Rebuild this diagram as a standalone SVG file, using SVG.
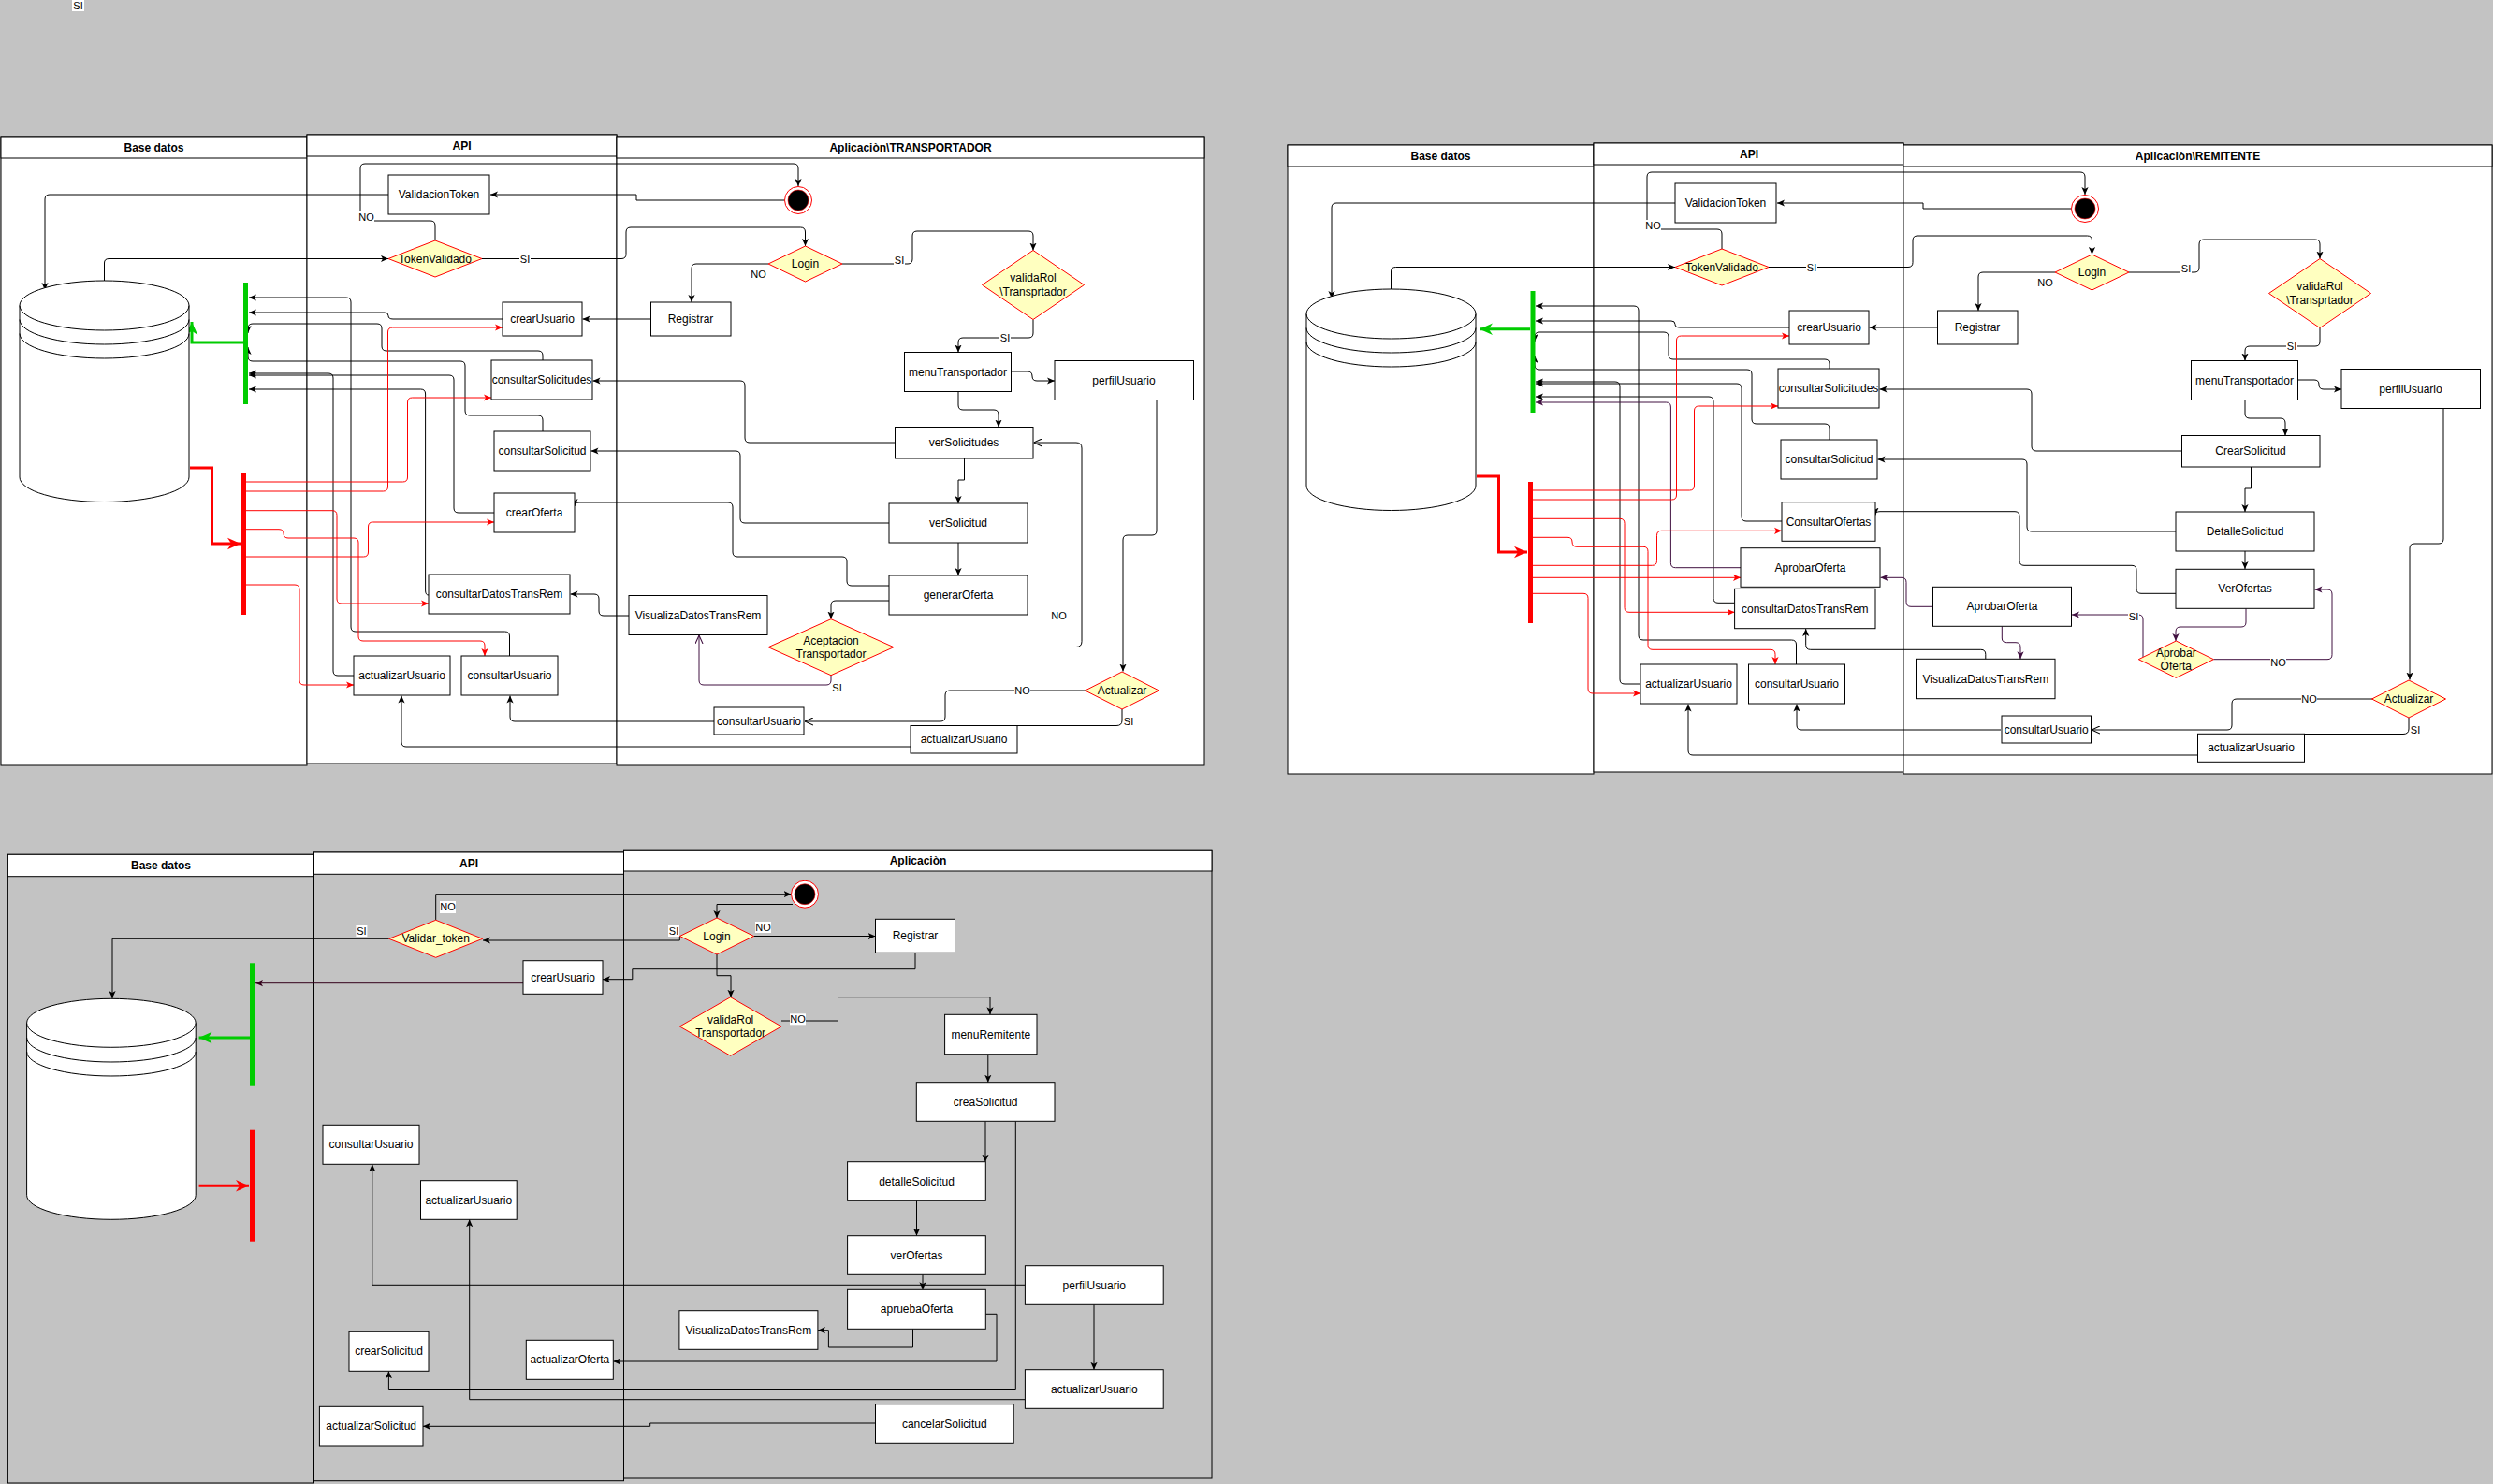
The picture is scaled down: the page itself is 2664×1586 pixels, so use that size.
<svg xmlns="http://www.w3.org/2000/svg" width="2664" height="1586" viewBox="0 0 2664 1586">
<defs>
<style>
.bg{fill:#c3c3c3}
.lane{fill:#fff;stroke:#000;stroke-width:1}
.laneg{fill:none;stroke:#000;stroke-width:1}
.hd{fill:#fff;stroke:#000;stroke-width:1}
.n{fill:#fff;stroke:#000;stroke-width:1}
.d{fill:#ffffc0;stroke:#ff0000;stroke-width:1}
.cyl{fill:#fff;stroke:#000;stroke-width:1}
.cyll{fill:none;stroke:#000;stroke-width:1}
text{font-family:'Liberation Sans',Arial,Helvetica,sans-serif;font-size:12px;text-anchor:middle;dominant-baseline:central;fill:#000}
.ht{font-weight:bold}
.el{font-size:11px}
.lb{fill:#fff}
.c{fill:none;stroke:#000;stroke-width:1;marker-end:url(#ab)}
.cn{fill:none;stroke:#000;stroke-width:1}
.co{fill:none;stroke:#000;stroke-width:1;marker-end:url(#ao)}
.cr{fill:none;stroke:#f00;stroke-width:1;marker-end:url(#ar)}
.cp{fill:none;stroke:#401040;stroke-width:1;marker-end:url(#ap)}
.cpo{fill:none;stroke:#401040;stroke-width:1;marker-end:url(#apo)}
.cm{fill:none;stroke:#33001a;stroke-width:1;marker-end:url(#am)}
.gb{fill:#00cc00}
.rb{fill:#ff0000}
.ga{fill:none;stroke:#00cc00;stroke-width:3;marker-end:url(#ag)}
.ra{fill:none;stroke:#ff0000;stroke-width:3;marker-end:url(#arb)}
.eo{fill:#fff;stroke:#f00;stroke-width:1}
.ei{fill:#000;stroke:#f00;stroke-width:0.6}
</style>
<marker id="ab" viewBox="0 0 10 10" refX="10" refY="5" markerWidth="8" markerHeight="8" markerUnits="userSpaceOnUse" orient="auto"><path d="M0,0.5 L10,5 L0,9.5 L2.5,5z" fill="#000"/></marker>
<marker id="ar" viewBox="0 0 10 10" refX="10" refY="5" markerWidth="8" markerHeight="8" markerUnits="userSpaceOnUse" orient="auto"><path d="M0,0.5 L10,5 L0,9.5 L2.5,5z" fill="#f00"/></marker>
<marker id="ap" viewBox="0 0 10 10" refX="10" refY="5" markerWidth="8" markerHeight="8" markerUnits="userSpaceOnUse" orient="auto"><path d="M0,0.5 L10,5 L0,9.5 L2.5,5z" fill="#401040"/></marker>
<marker id="am" viewBox="0 0 10 10" refX="10" refY="5" markerWidth="8" markerHeight="8" markerUnits="userSpaceOnUse" orient="auto"><path d="M0,0.5 L10,5 L0,9.5 L2.5,5z" fill="#33001a"/></marker>
<marker id="ao" viewBox="0 0 10 10" refX="10" refY="5" markerWidth="9" markerHeight="9" markerUnits="userSpaceOnUse" orient="auto"><path d="M0,0.5 L10,5 L0,9.5" fill="none" stroke="#000" stroke-width="1.2"/></marker>
<marker id="apo" viewBox="0 0 10 10" refX="10" refY="5" markerWidth="9" markerHeight="9" markerUnits="userSpaceOnUse" orient="auto"><path d="M0,0.5 L10,5 L0,9.5" fill="none" stroke="#401040" stroke-width="1.2"/></marker>
<marker id="ag" viewBox="0 0 10 10" refX="10" refY="5" markerWidth="14" markerHeight="14" markerUnits="userSpaceOnUse" orient="auto"><path d="M0,0.5 L10,5 L0,9.5 L3,5z" fill="#00cc00"/></marker>
<marker id="arb" viewBox="0 0 10 10" refX="10" refY="5" markerWidth="14" markerHeight="14" markerUnits="userSpaceOnUse" orient="auto"><path d="M0,0.5 L10,5 L0,9.5 L3,5z" fill="#ff0000"/></marker>
</defs>

<rect class="bg" x="0" y="0" width="2664" height="1586"/>

<g id="top-si-label"><rect class="lb" x="77" y="0" width="13" height="12"/><text class="el" x="83.5" y="6">SI</text></g>

<!-- ===================== TOP LEFT: TRANSPORTADOR ===================== -->
<g id="transportador">
<g id="tl-pools">
<rect class="lane" x="1" y="146" width="327" height="672"/>
<rect class="hd" x="1" y="146" width="327" height="23"/>
<text class="ht" x="164.5" y="157.5">Base datos</text>
<rect class="lane" x="328" y="144" width="331" height="672"/>
<rect class="hd" x="328" y="144" width="331" height="23"/>
<text class="ht" x="493.5" y="155.5">API</text>
<rect class="lane" x="659" y="146" width="628" height="672"/>
<rect class="hd" x="659" y="146" width="628" height="23"/>
<text class="ht" x="973" y="157.5">Aplicaciòn\TRANSPORTADOR</text>
</g>

<g id="tl-connectors">
<path class="c" d="M465,257 V241 Q465,236 460,236 H390 Q385,236 385,231 V180 Q385,175 390,175 H848 Q853,175 853,180 V199"/>
<path class="c" d="M838,214 H680 V208 H524"/>
<path class="c" d="M415,208 H53 Q48,208 48,213 V310"/>
<path class="c" d="M111.5,300 V281 Q111.5,276.5 116.5,276.5 H415"/>
<path class="c" d="M515,276.5 H664 Q669,276.5 669,271.5 V248 Q669,243 674,243 H855.5 Q860.5,243 860.5,248 V263"/>
<path class="c" d="M821,282 H744 Q739,282 739,287 V323"/>
<path class="c" d="M900,282 H970 Q975,282 975,277 V252 Q975,247 980,247 H1099 Q1104,247 1104,252 V267.5"/>
<path class="c" d="M1104,341.5 V356 Q1104,361 1099,361 H1029 Q1024,361 1024,366 V376.5"/>
<path class="c" d="M1081,397 H1098 Q1103,397 1103,402 Q1103,407 1108,407 H1127"/>
<path class="c" d="M1024,418.5 V433 Q1024,438 1029,438 H1062 Q1067,438 1067,443 V456.5"/>
<path class="c" d="M956.5,473 H801 Q796,473 796,468 V412 Q796,407 791,407 H633.5"/>
<path class="co" d="M955,691.5 H1150 Q1156,691.5 1156,685.5 V479 Q1156,473 1150,473 H1104.5"/>
<path class="c" d="M1030.5,490 V513 H1024 V538"/>
<path class="c" d="M950,559 H796 Q791,559 791,554 V487 Q791,482 786,482 H631.5"/>
<path class="c" d="M1024,580 V615"/>
<path class="c" d="M950,626 H910 Q905,626 905,621 V600 Q905,595 900,595 H788 Q783,595 783,590 V542 Q783,537 778,537 H619 Q614,537 614,541"/>
<path class="c" d="M950,642 H893 Q888,642 888,647 V661.5"/>
<path class="cpo" d="M888,722 V727 Q888,732 883,732 H752 Q747,732 747,727 V679"/>
<path class="c" d="M672,658 H645 Q640,658 640,653 V640 Q640,635 635,635 H609.5"/>
<path class="c" d="M1236,427.5 V567 Q1236,572 1231,572 H1205 Q1200,572 1200,577 V717.5"/>
<path class="co" d="M1160,738 H1015 Q1010,738 1010,743 V766 Q1010,771 1005,771 H860"/>
<path class="cn" d="M1199,758 V770 Q1199,775.5 1193,775.5 H1087"/>
<path class="c" d="M763,771 H550 Q545,771 545,766 V743.5"/>
<path class="c" d="M973,798 H434 Q429,798 429,793 V743.5"/>
<path class="c" d="M695.5,341 H622.5"/>
<!-- API to green bar -->
<path class="c" d="M544.5,701 V680 Q544.5,675 539.5,675 H380 Q375,675 375,670 V323 Q375,318 370,318 H266"/>
<path class="c" d="M537,341 H420 Q415,341 415,337.5 Q415,334 411,334 H266"/>
<path class="c" d="M580,385 V380 Q580,375 575,375 H413 Q408,375 408,370 V351 Q408,346 403,346 H270 Q265,346 265,351 V356"/>
<path class="c" d="M580,461 V449 Q580,444 575,444 H502 Q497,444 497,439 V391 Q497,386 492,386 H270 Q265,386 265,381 V371"/>
<path class="c" d="M378,722 H361 Q356,722 356,717 V404 Q356,399 351,399 H266"/>
<path class="c" d="M528,548 H490 Q485,548 485,543 V406 Q485,401 480,401 H266"/>
<path class="c" d="M458,636 Q454.6,636 454.6,631 V421 Q454.6,416 449.6,416 H266"/>
<!-- red bar to API -->
<path class="cr" d="M263,515 H430.5 Q435.5,515 435.5,510 V430 Q435.5,425 440.5,425 H525"/>
<path class="cr" d="M263,525 H409.5 Q414.5,525 414.5,520 V355 Q414.5,350 419.5,350 H537"/>
<path class="cr" d="M263,545.7 H355 Q360,545.7 360,550.7 V640 Q360,645 365,645 H458"/>
<path class="cr" d="M263,565.7 H298 Q303,565.7 303,570 Q303,575 308,575 H378 Q383,575 383,580 V680 Q383,685 388,685 H513 Q518,685 518,690 V701"/>
<path class="cr" d="M263,595 H388.5 Q393.5,595 393.5,590 V563 Q393.5,558 398.5,558 H528"/>
<path class="cr" d="M263,625 H315 Q320,625 320,630 V727 Q320,732 325,732 H378"/>
<!-- bars arrows -->
<path class="ga" d="M260,366 H205 V344"/>
<path class="ra" d="M203,500 H226.5 V581 H257"/>
<!-- labels -->
<rect class="lb" x="383" y="226" width="17" height="12"/><text class="el" x="391.5" y="232">NO</text>
<rect class="lb" x="555" y="270.5" width="12" height="12"/><text class="el" x="561" y="276.5">SI</text>
<text class="el" x="810.5" y="293">NO</text>
<rect class="lb" x="955" y="271.5" width="12" height="12"/><text class="el" x="961" y="277.5">SI</text>
<rect class="lb" x="1068" y="355" width="12" height="12"/><text class="el" x="1074" y="361">SI</text>
<text class="el" x="1131.5" y="657.5">NO</text>
<text class="el" x="894.5" y="735">SI</text>
<rect class="lb" x="1084" y="732" width="17" height="12"/><text class="el" x="1092.5" y="738">NO</text>
<text class="el" x="1206" y="771">SI</text>
</g>

<g id="tl-database"><path class="cyl" d="M21,326.5 A90.5,26.5 0 0 1 202,326.5 V510 A90.5,26.5 0 0 1 21,510 Z"/><path class="cyll" d="M21,326.5 A90.5,26.5 0 0 0 202,326.5 M21,341.5 A90.5,26.5 0 0 0 202,341.5 M21,356.5 A90.5,26.5 0 0 0 202,356.5"/></g>
<g id="tl-fork-green"><rect class="gb" x="260" y="302" width="5" height="130"/></g>
<g id="tl-fork-red"><rect class="rb" x="258" y="506" width="5" height="151"/></g>

<g id="tl-validacionToken"><rect class="n" x="415" y="187" width="108" height="42"/><text x="469" y="208">ValidacionToken</text></g>
<g id="tl-tokenValidado"><polygon class="d" points="465,257 515,276.5 465,296 415,276.5"/><text x="465" y="276.5">TokenValidado</text></g>
<g id="tl-crearUsuario"><rect class="n" x="537" y="323" width="85" height="36"/><text x="579.5" y="341">crearUsuario</text></g>
<g id="tl-consultarSolicitudes"><rect class="n" x="525" y="385" width="108" height="42"/><text x="579" y="406">consultarSolicitudes</text></g>
<g id="tl-consultarSolicitud"><rect class="n" x="528" y="461" width="103" height="42"/><text x="579.5" y="482">consultarSolicitud</text></g>
<g id="tl-crearOferta"><rect class="n" x="528" y="527" width="86" height="42"/><text x="571" y="548">crearOferta</text></g>
<g id="tl-consultarDatosTransRem"><rect class="n" x="458" y="614" width="151" height="42"/><text x="533.5" y="635">consultarDatosTransRem</text></g>
<g id="tl-actualizarUsuario-api"><rect class="n" x="378" y="701" width="103" height="42"/><text x="429.5" y="722">actualizarUsuario</text></g>
<g id="tl-consultarUsuario-api"><rect class="n" x="493" y="701" width="103" height="42"/><text x="544.5" y="722">consultarUsuario</text></g>
<g id="tl-end"><circle class="eo" cx="853" cy="214" r="14.5"/><circle class="ei" cx="853" cy="214" r="11"/></g>
<g id="tl-login"><polygon class="d" points="860.5,263 900,282 860.5,301 821,282"/><text x="860.5" y="282">Login</text></g>
<g id="tl-registrar"><rect class="n" x="695.5" y="323" width="85.5" height="36"/><text x="738" y="341">Registrar</text></g>
<g id="tl-validaRol"><polygon class="d" points="1104,267.5 1158.5,304.5 1104,341.5 1049.5,304.5"/><text x="1104" y="297">validaRol</text><text x="1104" y="312">\Transprtador</text></g>
<g id="tl-menuTransportador"><rect class="n" x="966.5" y="376.5" width="114" height="42"/><text x="1023.5" y="397.5">menuTransportador</text></g>
<g id="tl-perfilUsuario"><rect class="n" x="1127" y="385.5" width="148.5" height="42"/><text x="1201" y="406.5">perfilUsuario</text></g>
<g id="tl-verSolicitudes"><rect class="n" x="956.5" y="456.5" width="147.5" height="33.5"/><text x="1030" y="473">verSolicitudes</text></g>
<g id="tl-verSolicitud"><rect class="n" x="950" y="538" width="148" height="42"/><text x="1024" y="559">verSolicitud</text></g>
<g id="tl-generarOferta"><rect class="n" x="950" y="615" width="148" height="42"/><text x="1024" y="636">generarOferta</text></g>
<g id="tl-visualizaDatosTransRem"><rect class="n" x="672" y="636.5" width="148" height="42"/><text x="746" y="657.5">VisualizaDatosTransRem</text></g>
<g id="tl-aceptacion"><polygon class="d" points="888,661.7 955,691.7 888,721.7 821,691.7"/><text x="888" y="685">Aceptacion</text><text x="888" y="699">Transportador</text></g>
<g id="tl-actualizar"><polygon class="d" points="1199,718 1238.5,738 1199,758 1159.5,738"/><text x="1199" y="738">Actualizar</text></g>
<g id="tl-consultarUsuario-app"><rect class="n" x="763" y="756" width="96" height="29"/><text x="811" y="770.5">consultarUsuario</text></g>
<g id="tl-actualizarUsuario-app"><rect class="n" x="973" y="775.5" width="114" height="29.5"/><text x="1030" y="790">actualizarUsuario</text></g>
</g>

<!-- ===================== TOP RIGHT: REMITENTE ===================== -->
<g id="remitente" transform="translate(1375,9)">
<g id="tr-pools">
<rect class="lane" x="1" y="146" width="327" height="672"/>
<rect class="hd" x="1" y="146" width="327" height="23"/>
<text class="ht" x="164.5" y="157.5">Base datos</text>
<rect class="lane" x="328" y="144" width="331" height="672"/>
<rect class="hd" x="328" y="144" width="331" height="23"/>
<text class="ht" x="494" y="155.5">API</text>
<rect class="lane" x="659" y="146" width="629" height="672"/>
<rect class="hd" x="659" y="146" width="629" height="23"/>
<text class="ht" x="973.5" y="157.5">Aplicaciòn\REMITENTE</text>
</g>

<g id="tr-connectors">
<path class="c" d="M465,257 V241 Q465,236 460,236 H390 Q385,236 385,231 V180 Q385,175 390,175 H848 Q853,175 853,180 V199"/>
<path class="c" d="M838,214 H680 V208 H524"/>
<path class="c" d="M415,208 H53 Q48,208 48,213 V310"/>
<path class="c" d="M111.5,300 V281 Q111.5,276.5 116.5,276.5 H415"/>
<path class="c" d="M515,276.5 H664 Q669,276.5 669,271.5 V248 Q669,243 674,243 H855.5 Q860.5,243 860.5,248 V263"/>
<path class="c" d="M821,282 H744 Q739,282 739,287 V323"/>
<path class="c" d="M900,282 H970 Q975,282 975,277 V252 Q975,247 980,247 H1099 Q1104,247 1104,252 V267.5"/>
<path class="c" d="M1104,341.5 V356 Q1104,361 1099,361 H1029 Q1024,361 1024,366 V376.5"/>
<path class="c" d="M1081,397 H1098 Q1103,397 1103,402 Q1103,407 1108,407 H1127"/>
<path class="c" d="M1024,418.5 V433 Q1024,438 1029,438 H1062 Q1067,438 1067,443 V456.5"/>
<path class="c" d="M956.5,473 H801 Q796,473 796,468 V412 Q796,407 791,407 H633.5"/>
<path class="c" d="M1030.5,490 V513 H1024 V538"/>
<path class="c" d="M950,559 H796 Q791,559 791,554 V487 Q791,482 786,482 H631.5"/>
<path class="c" d="M1024,580 V599"/>
<path class="c" d="M950,625.3 H913 Q908,625.3 908,620.3 V600.3 Q908,595.3 903,595.3 H788 Q783,595.3 783,590.3 V542.7 Q783,537.7 778,537.7 H634 Q629,537.7 629,541.5"/>
<path class="cp" d="M1025,641.3 V656 Q1025,661 1020,661 H955 Q950,661 950,666 V676"/>
<path class="cp" d="M990.4,695.7 H1112 Q1117,695.7 1117,690.7 V626 Q1117,621 1112,621 H1098.5"/>
<path class="cp" d="M915,693 V653 Q915,648 910,648 H839"/>
<path class="cp" d="M764.3,660.3 V673 Q764.3,677.7 769.3,677.7 H779 Q784,677.7 784,682.7 V695.3"/>
<path class="cp" d="M690.5,639.3 H667 Q662,639.3 662,634.3 V613.3 Q662,608.3 657,608.3 H634.5"/>
<path class="c" d="M746.8,695.3 V690.3 Q746.8,685.3 741.8,685.3 H559.7 Q554.7,685.3 554.7,680.3 V663"/>
<path class="c" d="M1236,427.5 V567 Q1236,572 1231,572 H1205 Q1200,572 1200,577 V717.5"/>
<path class="co" d="M1160,738 H1015 Q1010,738 1010,743 V766 Q1010,771 1005,771 H860"/>
<path class="cn" d="M1199,758 V770 Q1199,775.5 1193,775.5 H1087"/>
<path class="c" d="M763,771 H550 Q545,771 545,766 V743.5"/>
<path class="c" d="M973,798 H434 Q429,798 429,793 V743.5"/>
<path class="c" d="M695.5,341 H622.5"/>
<!-- API to green bar -->
<path class="c" d="M544.5,701 V680 Q544.5,675 539.5,675 H381 Q376,675 376,670 V323 Q376,318 371,318 H266"/>
<path class="c" d="M537,341 H420 Q415,341 415,337.5 Q415,334 411,334 H266"/>
<path class="c" d="M580,385 V380 Q580,375 575,375 H413 Q408,375 408,370 V351 Q408,346 403,346 H270 Q265,346 265,351 V356"/>
<path class="c" d="M580,461 V449 Q580,444 575,444 H502 Q497,444 497,439 V391 Q497,386 492,386 H270 Q265,386 265,381 V371"/>
<path class="c" d="M378,722 H361 Q356,722 356,717 V404 Q356,399 351,399 H266"/>
<path class="c" d="M529,548 H491 Q486,548 486,543 V406 Q486,401 481,401 H266"/>
<path class="c" d="M478.6,635.3 H461 Q456,635.3 456,630.3 V420 Q456,415 451,415 H266"/>
<path class="cp" d="M485,597.7 H415.4 Q410.4,597.7 410.4,592.7 V426 Q410.4,421 405.4,421 H266"/>
<!-- red bar to API -->
<path class="cr" d="M263,515 H430.5 Q435.5,515 435.5,510 V430 Q435.5,425 440.5,425 H525"/>
<path class="cr" d="M263,525 H411.5 Q416.5,525 416.5,520 V355 Q416.5,350 421.5,350 H537"/>
<path class="cr" d="M263,545.3 H356 Q361,545.3 361,550.3 V640.3 Q361,645.3 366,645.3 H478.6"/>
<path class="cr" d="M263,565.3 H300 Q305,565.3 305,570 Q305,575.3 310,575.3 H381 Q386,575.3 386,580.3 V680.3 Q386,685.3 391,685.3 H517 Q522,685.3 522,690.3 V701"/>
<path class="cr" d="M263,595.3 H390.5 Q395.5,595.3 395.5,590.3 V563.3 Q395.5,558.3 400.5,558.3 H529"/>
<path class="cr" d="M263,608.3 H485"/>
<path class="cr" d="M263,625.3 H317 Q322,625.3 322,630.3 V727 Q322,732 327,732 H378"/>
<path class="ga" d="M260,342.7 H206"/>
<path class="ra" d="M203,500 H226.5 V581 H257"/>
<!-- labels -->
<rect class="lb" x="383" y="226" width="17" height="12"/><text class="el" x="391.5" y="232">NO</text>
<rect class="lb" x="555" y="270.5" width="12" height="12"/><text class="el" x="561" y="276.5">SI</text>
<text class="el" x="810.5" y="293">NO</text>
<rect class="lb" x="955" y="271.5" width="12" height="12"/><text class="el" x="961" y="277.5">SI</text>
<rect class="lb" x="1068" y="355" width="12" height="12"/><text class="el" x="1074" y="361">SI</text>
<rect class="lb" x="1051" y="692.7" width="17" height="12"/><text class="el" x="1059.6" y="698.7">NO</text>
<rect class="lb" x="899" y="644" width="12" height="12"/><text class="el" x="905" y="650">SI</text>
<rect class="lb" x="1084" y="732" width="17" height="12"/><text class="el" x="1092.5" y="738">NO</text>
<text class="el" x="1206" y="771">SI</text>
</g>

<g id="tr-database"><path class="cyl" d="M21,326.5 A90.5,26.5 0 0 1 202,326.5 V510 A90.5,26.5 0 0 1 21,510 Z"/><path class="cyll" d="M21,326.5 A90.5,26.5 0 0 0 202,326.5 M21,341.5 A90.5,26.5 0 0 0 202,341.5 M21,356.5 A90.5,26.5 0 0 0 202,356.5"/></g>
<g id="tr-fork-green"><rect class="gb" x="260.5" y="302" width="5" height="130"/></g>
<g id="tr-fork-red"><rect class="rb" x="258" y="506" width="5" height="151"/></g>

<g id="tr-validacionToken"><rect class="n" x="415" y="187" width="108" height="42"/><text x="469" y="208">ValidacionToken</text></g>
<g id="tr-tokenValidado"><polygon class="d" points="465,257 515,276.5 465,296 415,276.5"/><text x="465" y="276.5">TokenValidado</text></g>
<g id="tr-crearUsuario"><rect class="n" x="537" y="323" width="85" height="36"/><text x="579.5" y="341">crearUsuario</text></g>
<g id="tr-consultarSolicitudes"><rect class="n" x="525" y="385" width="108" height="42"/><text x="579" y="406">consultarSolicitudes</text></g>
<g id="tr-consultarSolicitud"><rect class="n" x="528" y="461" width="103" height="42"/><text x="579.5" y="482">consultarSolicitud</text></g>
<g id="tr-consultarOfertas"><rect class="n" x="529" y="527.7" width="100" height="41.6"/><text x="579" y="548.5">ConsultarOfertas</text></g>
<g id="tr-aprobarOferta-api"><rect class="n" x="485" y="576.7" width="149" height="41.6"/><text x="559.5" y="597.5">AprobarOferta</text></g>
<g id="tr-consultarDatosTransRem"><rect class="n" x="478.6" y="620.3" width="150.4" height="42.4"/><text x="553.8" y="641.5">consultarDatosTransRem</text></g>
<g id="tr-actualizarUsuario-api"><rect class="n" x="378" y="701" width="103" height="42"/><text x="429.5" y="722">actualizarUsuario</text></g>
<g id="tr-consultarUsuario-api"><rect class="n" x="493.5" y="701" width="103" height="42"/><text x="545" y="722">consultarUsuario</text></g>
<g id="tr-end"><circle class="eo" cx="853" cy="214" r="14.5"/><circle class="ei" cx="853" cy="214" r="11"/></g>
<g id="tr-login"><polygon class="d" points="860.5,263 900,282 860.5,301 821,282"/><text x="860.5" y="282">Login</text></g>
<g id="tr-registrar"><rect class="n" x="695.5" y="323" width="85.5" height="36"/><text x="738" y="341">Registrar</text></g>
<g id="tr-validaRol"><polygon class="d" points="1104,267.5 1158.5,304.5 1104,341.5 1049.5,304.5"/><text x="1104" y="297">validaRol</text><text x="1104" y="312">\Transprtador</text></g>
<g id="tr-menuTransportador"><rect class="n" x="966.5" y="376.5" width="114" height="42"/><text x="1023.5" y="397.5">menuTransportador</text></g>
<g id="tr-perfilUsuario"><rect class="n" x="1127" y="385.5" width="148.5" height="42"/><text x="1201" y="406.5">perfilUsuario</text></g>
<g id="tr-crearSolicitud"><rect class="n" x="956.5" y="456.5" width="147.5" height="33.5"/><text x="1030" y="473">CrearSolicitud</text></g>
<g id="tr-detalleSolicitud"><rect class="n" x="950" y="538" width="148" height="42"/><text x="1024" y="559">DetalleSolicitud</text></g>
<g id="tr-verOfertas"><rect class="n" x="950" y="599.3" width="148" height="42"/><text x="1024" y="620.3">VerOfertas</text></g>
<g id="tr-aprobarOferta-app"><rect class="n" x="690.5" y="618.3" width="148" height="42"/><text x="764.5" y="639.3">AprobarOferta</text></g>
<g id="tr-visualizaDatosTransRem"><rect class="n" x="672.5" y="695.3" width="148.5" height="42.4"/><text x="746.8" y="716.5">VisualizaDatosTransRem</text></g>
<g id="tr-aprobarOferta-dec"><polygon class="d" points="950.3,676 990.4,695.7 950.3,715.4 910.3,695.7"/><text x="950.3" y="689">Aprobar</text><text x="950.3" y="703">Oferta</text></g>
<g id="tr-actualizar"><polygon class="d" points="1199,718 1238.5,738 1199,758 1159.5,738"/><text x="1199" y="738">Actualizar</text></g>
<g id="tr-consultarUsuario-app"><rect class="n" x="764" y="756" width="95.5" height="29"/><text x="811.7" y="770.5">consultarUsuario</text></g>
<g id="tr-actualizarUsuario-app"><rect class="n" x="973.5" y="775.3" width="114" height="30"/><text x="1030.5" y="790">actualizarUsuario</text></g>
</g>

<!-- ===================== BOTTOM ===================== -->
<g id="bottom">
<g id="b-pools">
<rect class="laneg" x="8.4" y="913.3" width="327.1" height="671.7"/>
<rect class="hd" x="8.4" y="913.3" width="327.1" height="23.4"/>
<text class="ht" x="172" y="925">Base datos</text>
<rect class="laneg" x="335.5" y="911" width="331" height="671.7"/>
<rect class="hd" x="335.5" y="911" width="331" height="23.3"/>
<text class="ht" x="501" y="922.7">API</text>
<rect class="laneg" x="666.5" y="908.3" width="628.5" height="671.7"/>
<rect class="hd" x="666.5" y="908.3" width="628.5" height="22.7"/>
<text class="ht" x="981" y="919.7">Aplicaciòn</text>
</g>

<g id="b-connectors">
<path class="c" d="M465.7,983.3 V955.7 H845.5"/>
<path class="c" d="M847,966.5 H766 V981"/>
<path class="c" d="M726.3,1000.5 V1005 H516"/>
<path class="c" d="M415.7,1003.3 H120 V1067"/>
<path class="c" d="M805.4,1000.5 H935.5"/>
<path class="c" d="M978,1018.3 V1035.7 H675.8 V1046.7 H644"/>
<path class="c" d="M766,1020 V1042.7 H781 V1065.7"/>
<path class="c" d="M835,1091 H895.5 V1065.7 H1058 V1084.3"/>
<path class="cm" d="M559,1050.7 H273"/>
<path class="c" d="M1055.8,1126.7 V1156.7"/>
<path class="c" d="M1053,1198.3 V1241.7"/>
<path class="c" d="M1085.3,1198.3 V1485.5 H415.4 V1465.3"/>
<path class="c" d="M979.5,1283.3 V1320.7"/>
<path class="c" d="M986,1362.3 V1378.3"/>
<path class="c" d="M1095.4,1373.3 H397.8 V1244.3"/>
<path class="c" d="M1169,1394.3 V1463.7"/>
<path class="c" d="M1095.4,1495.7 H501.7 V1303.3"/>
<path class="c" d="M975.5,1420.3 V1440 H885.4 V1421.7 H874"/>
<path class="c" d="M1053.3,1404.3 H1065 V1455 H655.4"/>
<path class="c" d="M935.5,1521 H694.7 V1524.3 H452"/>
<path class="ga" d="M267,1109 H212.6"/>
<path class="ra" d="M212.6,1267.3 H266"/>
<rect class="lb" x="470" y="963" width="17" height="13"/><text class="el" x="478.6" y="969.3">NO</text>
<rect class="lb" x="714" y="989" width="12" height="12"/><text class="el" x="720" y="995">SI</text>
<rect class="lb" x="380.4" y="989" width="12" height="12"/><text class="el" x="386.4" y="995">SI</text>
<rect class="lb" x="807" y="985" width="17" height="12"/><text class="el" x="815.5" y="991">NO</text>
<rect class="lb" x="844" y="1083.3" width="17" height="12"/><text class="el" x="852.6" y="1089.3">NO</text>
</g>

<g id="b-database"><path class="cyl" d="M28.6,1093.3 A90.3,26 0 0 1 209.2,1093.3 V1277.3 A90.3,26 0 0 1 28.6,1277.3 Z"/><path class="cyll" d="M28.6,1093.3 A90.3,26 0 0 0 209.2,1093.3 M28.6,1109 A90.3,26 0 0 0 209.2,1109 M28.6,1124 A90.3,26 0 0 0 209.2,1124"/></g>
<g id="b-fork-green"><rect class="gb" x="267" y="1029.3" width="5.5" height="131.4"/></g>
<g id="b-fork-red"><rect class="rb" x="267" y="1207.7" width="5.5" height="119"/></g>

<g id="b-validarToken"><polygon class="d" points="465.7,983.3 515.7,1003.3 465.7,1023.3 415.7,1003.3"/><text x="465.7" y="1003.3">Validar_token</text></g>
<g id="b-crearUsuario"><rect class="n" x="559" y="1026.7" width="85" height="35.6"/><text x="601.5" y="1044.5">crearUsuario</text></g>
<g id="b-consultarUsuario"><rect class="n" x="345" y="1202.3" width="103" height="42"/><text x="396.5" y="1223.3">consultarUsuario</text></g>
<g id="b-actualizarUsuario-api"><rect class="n" x="449.5" y="1261.7" width="102.7" height="41.6"/><text x="500.8" y="1282.5">actualizarUsuario</text></g>
<g id="b-crearSolicitud"><rect class="n" x="373" y="1423.3" width="85" height="42"/><text x="415.5" y="1444.3">crearSolicitud</text></g>
<g id="b-actualizarOferta"><rect class="n" x="562.3" y="1432.3" width="93" height="42"/><text x="608.8" y="1453.3">actualizarOferta</text></g>
<g id="b-actualizarSolicitud"><rect class="n" x="341.4" y="1503.3" width="110.6" height="41.7"/><text x="396.7" y="1524.2">actualizarSolicitud</text></g>
<g id="b-end"><circle class="eo" cx="860" cy="955.7" r="14.5"/><circle class="ei" cx="860" cy="955.7" r="11"/></g>
<g id="b-login"><polygon class="d" points="766,981 805.5,1000.5 766,1020 726.5,1000.5"/><text x="766" y="1000.5">Login</text></g>
<g id="b-registrar"><rect class="n" x="935.5" y="982.3" width="85" height="36"/><text x="978" y="1000.3">Registrar</text></g>
<g id="b-validaRol"><polygon class="d" points="780.6,1065.7 835,1097 780.6,1128.3 726.3,1097"/><text x="780.6" y="1090">validaRol</text><text x="780.6" y="1104">Transportador</text></g>
<g id="b-menuRemitente"><rect class="n" x="1009.6" y="1084.3" width="98.4" height="42.4"/><text x="1058.8" y="1105.5">menuRemitente</text></g>
<g id="b-creaSolicitud"><rect class="n" x="979.3" y="1156.7" width="147.7" height="41.6"/><text x="1053.2" y="1177.5">creaSolicitud</text></g>
<g id="b-detalleSolicitud"><rect class="n" x="905.6" y="1241.7" width="147.7" height="41.6"/><text x="979.5" y="1262.5">detalleSolicitud</text></g>
<g id="b-verOfertas"><rect class="n" x="905.6" y="1320.7" width="147.7" height="41.6"/><text x="979.5" y="1341.5">verOfertas</text></g>
<g id="b-apruebaOferta"><rect class="n" x="905.6" y="1378.3" width="147.7" height="42"/><text x="979.5" y="1399.3">apruebaOferta</text></g>
<g id="b-visualizaDatosTransRem"><rect class="n" x="725.9" y="1400.7" width="148" height="41.6"/><text x="799.9" y="1421.5">VisualizaDatosTransRem</text></g>
<g id="b-perfilUsuario"><rect class="n" x="1095.4" y="1352.7" width="147.8" height="41.6"/><text x="1169.3" y="1373.5">perfilUsuario</text></g>
<g id="b-actualizarUsuario-app"><rect class="n" x="1095.4" y="1463.7" width="147.8" height="41.6"/><text x="1169.3" y="1484.5">actualizarUsuario</text></g>
<g id="b-cancelarSolicitud"><rect class="n" x="935.5" y="1500.7" width="147.7" height="41.6"/><text x="1009.3" y="1521.5">cancelarSolicitud</text></g>
</g>
</svg>
